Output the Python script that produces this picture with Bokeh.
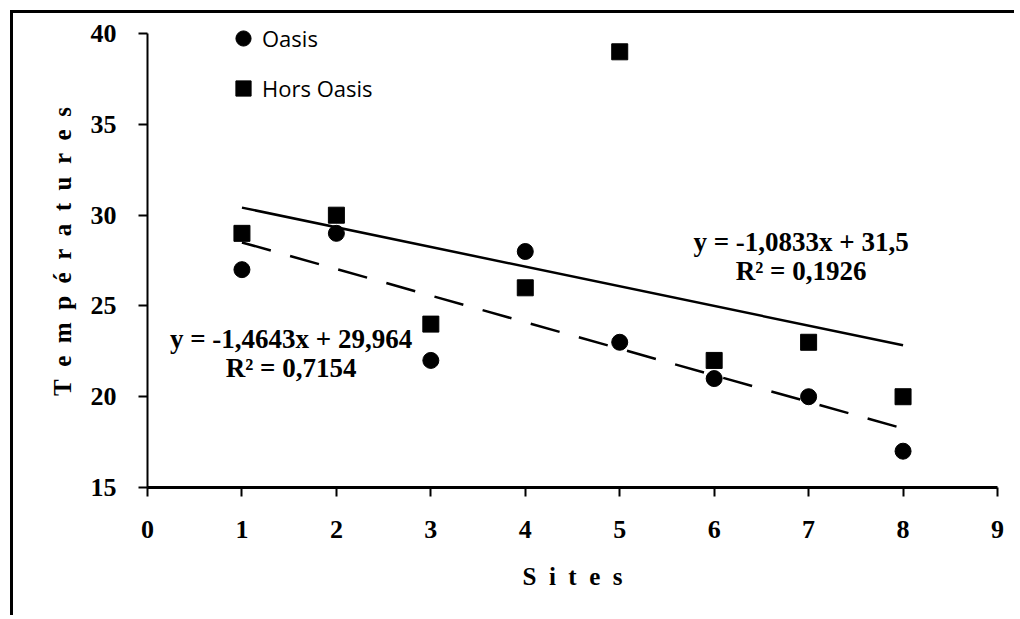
import numpy as np
from bokeh.plotting import figure
from bokeh.models import Legend, LegendItem, FixedTicker, Label
from bokeh.embed import file_html
from bokeh.resources import INLINE

# ---- data ----
sites = [1, 2, 3, 4, 5, 6, 7, 8]
oasis = [27, 29, 22, 28, 23, 21, 20, 17]
hors_oasis = [29, 30, 24, 26, 39, 22, 23, 20]
x_ticks = [0, 1, 2, 3, 4, 5, 6, 7, 8, 9]
y_ticks = [15, 20, 25, 30, 35, 40]

# linear trends (as reported on chart)
oasis_slope, oasis_icpt = -1.4643, 29.964
hors_slope, hors_icpt = -1.0833, 31.5
oasis_eq = ["y = -1,4643x + 29,964", "R² = 0,7154"]
hors_eq = ["y = -1,0833x + 31,5", "R² = 0,1926"]

SERIF = "Liberation Serif"
NB = "\u00a0\u00a0"

p = figure(width=1004, height=605, x_range=(0, 9), y_range=(15, 41),
           output_backend="svg", toolbar_location=None,
           min_border_left=134, min_border_right=20,
           min_border_top=2, min_border_bottom=131)
p.styles = {"border-left": "3px solid black", "border-top": "3px solid black",
            "margin-left": "10px", "margin-top": "10px"}
p.outline_line_color = None
p.xgrid.visible = False
p.ygrid.visible = False

# axes
p.xaxis.ticker = FixedTicker(ticks=x_ticks)
p.yaxis.ticker = FixedTicker(ticks=y_ticks)
for ax in (p.xaxis[0], p.yaxis[0]):
    ax.minor_tick_line_color = None
    ax.major_tick_in = 0
    ax.major_tick_line_color = "black"
    ax.axis_line_color = "black"
    ax.major_label_text_font = SERIF
    ax.major_label_text_font_style = "bold"
    ax.major_label_text_font_size = "26px"
    ax.major_label_text_color = "black"
    ax.axis_label_text_font = SERIF
    ax.axis_label_text_font_style = "bold"
    ax.axis_label_text_font_size = "25px"
    ax.axis_label_text_color = "black"

p.xaxis.axis_line_width = 3
p.xaxis.major_tick_line_width = 2
p.xaxis.major_tick_out = 9
p.xaxis.major_label_standoff = 24
p.xaxis.axis_label_standoff = 22
p.xaxis.axis_label = NB.join(list("Sites"))

p.yaxis.bounds = (15, 40)
p.yaxis.axis_line_width = 2
p.yaxis.major_tick_line_width = 2
p.yaxis.major_tick_out = 9
p.yaxis.major_label_standoff = 22
p.yaxis.axis_label_standoff = 12
p.yaxis.axis_label = NB.join(list("Températures"))

# trend lines
xf = np.array([sites[0], sites[-1]], dtype=float)
p.line(xf, hors_slope * xf + hors_icpt, line_color="black", line_width=2.5)
p.line(xf, oasis_slope * xf + oasis_icpt, line_color="black", line_width=2.5,
       line_dash="30 20")

# points
r_o = p.scatter(sites, oasis, marker="circle", size=16, color="black")
r_h = p.scatter(sites, hors_oasis, marker="square", size=16, color="black")

legend = Legend(items=[LegendItem(label="Oasis", renderers=[r_o]),
                       LegendItem(label="Hors Oasis", renderers=[r_h])],
                location=(77, 380), orientation="vertical",
                padding=0, margin=0, spacing=12,
                glyph_width=38, glyph_height=38, label_height=38,
                label_standoff=-10,
                label_text_font="Open Sans", label_text_font_size="22px",
                label_text_color="black",
                background_fill_alpha=0, border_line_alpha=0)
p.add_layout(legend)

# equation labels
def eq_label(x, y, txt):
    p.add_layout(Label(x=x, y=y, text=txt, text_align="center",
                       text_baseline="middle", text_font=SERIF,
                       text_font_style="bold", text_font_size="27px",
                       text_color="black"))

eq_label(6.92, 28.55, hors_eq[0])
eq_label(6.92, 26.9, hors_eq[1])
eq_label(1.52, 23.2, oasis_eq[0])
eq_label(1.52, 21.6, oasis_eq[1])

open("out.html", "w").write(file_html(p, INLINE))
